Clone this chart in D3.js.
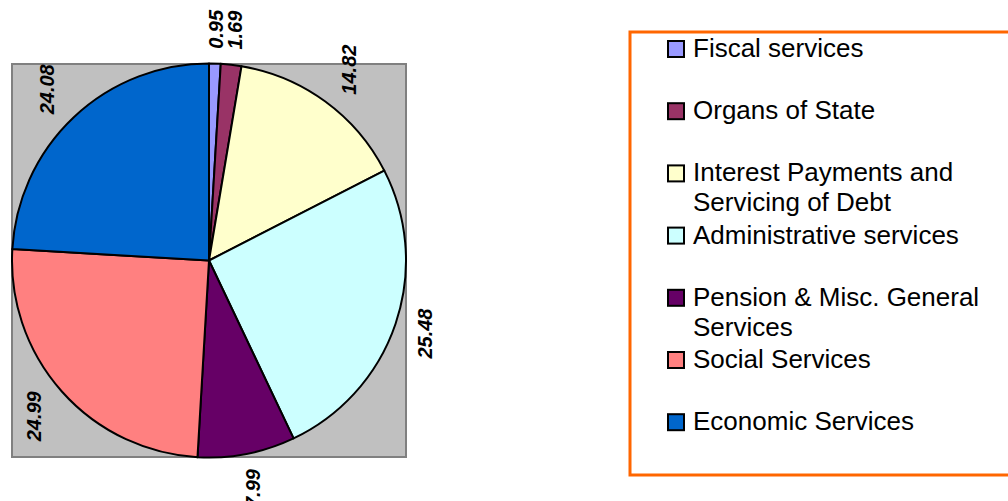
<!DOCTYPE html>
<html>
<head>
<meta charset="utf-8">
<script src="https://cdn.jsdelivr.net/npm/d3@7"></script>
<style>
	body { margin: 0; background: #ffffff; }
	svg { display: block; font-family: "Liberation Sans", Arial, sans-serif; }
</style>
</head>
<body>
<svg id="chart" width="1008" height="501"></svg>
<script>
var categories = ["Fiscal services", "Organs of State", "Interest Payments and Servicing of Debt",
	"Administrative services", "Pension & Misc. General Services", "Social Services", "Economic Services"];
var legendLines = [["Fiscal services"], ["Organs of State"], ["Interest Payments and", "Servicing of Debt"],
	["Administrative services"], ["Pension & Misc. General", "Services"], ["Social Services"], ["Economic Services"]];
var values = [0.95, 1.69, 14.82, 25.48, 7.99, 24.99, 24.08];
var colors = ["#9999FF", "#993366", "#FFFFCC", "#CCFFFF", "#660066", "#FF8080", "#0066CC"];

var svg = d3.select("#chart");
var cx = 209, cy = 260.5, radius = 197;

// plot area
svg.append("rect")
	.attr("x", 12).attr("y", 64)
	.attr("width", 394).attr("height", 393)
	.attr("fill", "#C0C0C0")
	.attr("stroke", "#808080")
	.attr("stroke-width", 2);

var pie = d3.pie().sort(null).value(function(d) { return d; });
var arcs = pie(values);
var arc = d3.arc().innerRadius(0).outerRadius(radius);

var g = svg.append("g").attr("transform", "translate(" + cx + "," + cy + ")");

g.selectAll("path.slice")
	.data(arcs)
	.enter().append("path")
	.attr("class", "slice")
	.attr("d", arc)
	.attr("fill", function(d, i) { return colors[i]; })
	.attr("stroke", "#000000")
	.attr("stroke-width", 2)
	.attr("stroke-linejoin", "round");

// labels, rotated, outside the edge
g.selectAll("text.lbl")
	.data(arcs)
	.enter().append("text")
	.attr("class", "lbl")
	.attr("font-size", "20px")
	.attr("font-weight", "bold")
	.attr("font-style", "italic")
	.attr("fill", "#000000")
	.attr("text-anchor", "middle")
	.attr("dominant-baseline", "central")
	.attr("transform", function(d) {
		var a = (d.startAngle + d.endAngle) / 2;
		var hw = 9, hh = String(d.data).length * 5;
		var off = radius + 14 + Math.abs(Math.sin(a)) * hw + Math.abs(Math.cos(a)) * hh;
		var x = Math.sin(a) * off, y = -Math.cos(a) * off;
		return "translate(" + x + "," + y + ") rotate(-90)";
	})
	.text(function(d) { return d.data; });

// legend
svg.append("rect")
	.attr("x", 630).attr("y", 32)
	.attr("width", 400).attr("height", 443)
	.attr("fill", "#ffffff")
	.attr("stroke", "#FF6600")
	.attr("stroke-width", 3);

var item = svg.selectAll("g.item")
	.data(categories)
	.enter().append("g")
	.attr("class", "item")
	.attr("transform", function(d, i) { return "translate(0," + (57 + i * 62.2) + ")"; });

item.append("rect")
	.attr("x", 668).attr("y", -16)
	.attr("width", 16).attr("height", 16)
	.attr("fill", function(d, i) { return colors[i]; })
	.attr("stroke", "#000000")
	.attr("stroke-width", 2);

item.append("text")
	.attr("x", 693)
	.attr("font-size", "26px")
	.attr("fill", "#000000")
	.selectAll("tspan")
	.data(function(d, i) { return legendLines[i]; })
	.enter().append("tspan")
	.attr("x", 693)
	.attr("dy", function(d, j) { return j === 0 ? 0 : 30; })
	.text(function(d) { return d; });
</script>
</body>
</html>
